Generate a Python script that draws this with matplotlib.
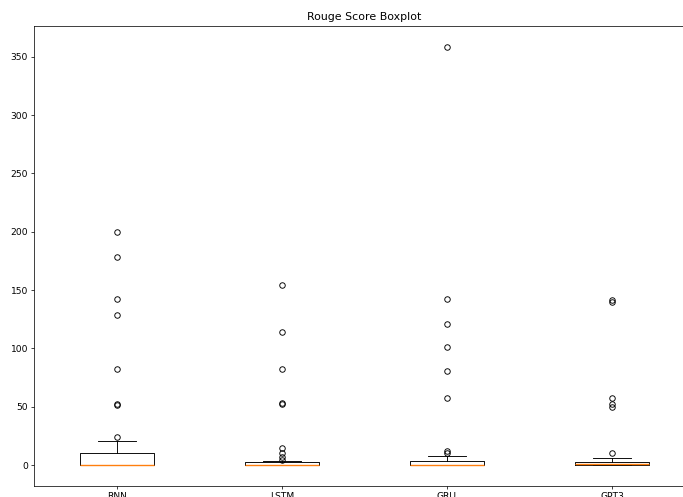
import matplotlib
matplotlib.use('Agg')
import matplotlib.pyplot as plt

models = ['RNN', 'LSTM', 'GRU', 'GPT3']

# box stats
q1 = [0, 0, 0, 0]
medians = [0.4, 0.5, 0.4, 0.6]
q3 = [10, 2.4, 3.8, 2.6]
whis_low = [0, 0, 0, 0]
whis_high = [20.8, 3.6, 8, 5.7]

rnn_fliers = [200, 178.7, 142.4, 128.4, 82.4, 52.3, 51.3, 23.7]
lstm_fliers = [154.4, 114, 82.4, 53.4, 52.3, 14.3, 10, 7.1, 4.3]
gru_fliers = [358.5, 142.4, 121, 101, 80.6, 57.2, 12, 10.6]
gpt3_fliers = [141.5, 139.5, 57.2, 52.3, 50, 10.4]
fliers = [rnn_fliers, lstm_fliers, gru_fliers, gpt3_fliers]

stats = []
for i in range(len(models)):
    stats.append({'label': models[i], 'q1': q1[i], 'med': medians[i], 'q3': q3[i],
                  'whislo': whis_low[i], 'whishi': whis_high[i], 'fliers': fliers[i]})

fig = plt.figure(figsize=(683 / 66, 497 / 66), dpi=66)
ax = fig.add_axes([0.0505, 0.0221, 0.9663, 0.9256])

ax.bxp(stats, medianprops=dict(color='C1', linewidth=1.5))
ax.set_title('Rouge Score Boxplot')
# the original was cropped, right edge of the axes falls outside the picture
ax.spines['right'].set_visible(False)

fig.savefig('out.png', dpi=66)
